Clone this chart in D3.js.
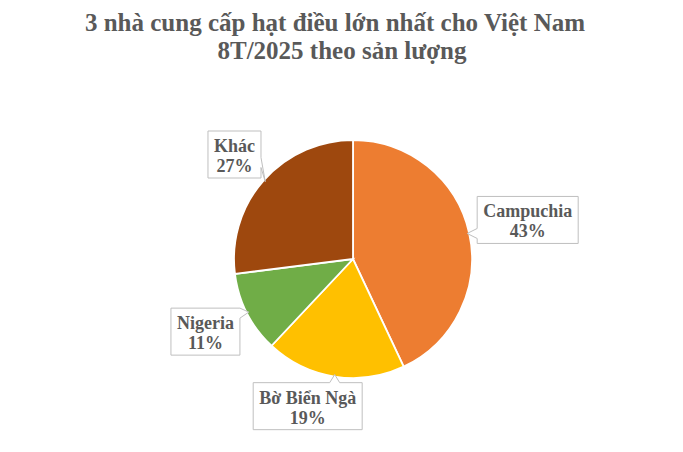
<!DOCTYPE html>
<html lang="vi">
<head>
  <meta charset="UTF-8">
  <title>Hạt điều</title>
  <script src="https://d3js.org/d3.v7.min.js"></script>
  <style>
    body {
      margin: 0;
      padding: 0;
      background: #fff;
    }
    svg {
      display: block;
      font-family: 'Liberation Serif', 'Times New Roman', serif;
    }
    .title {
      font-size: 25px;
      font-weight: bold;
      fill: #595959;
    }
    .lbl {
      font-size: 18px;
      font-weight: bold;
      fill: #595959;
    }
  </style>
</head>
<body>
  <svg id="chart" width="683" height="452"></svg>

  <script>
    // data
    var countries = ['Campuchia', 'Bờ Biển Ngà', 'Nigeria', 'Khác'];
    var shares = [43, 19, 11, 27];
    var colors = ['#ED7D31', '#FFC000', '#70AD47', '#9E480E'];
    var titleLines = ['3 nhà cung cấp hạt điều lớn nhất cho Việt Nam', '8T/2025 theo sản lượng'];

    // label placement (distance from centre, x nudge)
    var labelDist = [179, 149, 160, 158];
    var labelNudge = [0, -22, -5, 0];

    var width = 683, height = 452;
    var cx = 353, cy = 259, radius = 119;

    var svg = d3.select('#chart');

    // first title line sits a little left (trailing space in the original)
    var titleX = [335, 342];
    svg.selectAll('text.title')
      .data(titleLines).enter().append('text')
      .attr('class', 'title')
      .attr('x', function(d, i) { return titleX[i]; })
      .attr('y', function(d, i) { return 31 + i * 28; })
      .attr('text-anchor', 'middle')
      .text(function(d) { return d; });

    var data = countries.map(function(c, i) {
      return { name: c, value: shares[i], color: colors[i], dist: labelDist[i], nudge: labelNudge[i] };
    });

    var pie = d3.pie().sort(null).value(function(d) { return d.value; });
    var arc = d3.arc().innerRadius(0).outerRadius(radius);
    var arcs = pie(data);

    var g = svg.append('g').attr('transform', 'translate(' + cx + ',' + cy + ')');

    g.selectAll('path.slice')
      .data(arcs).enter().append('path')
      .attr('class', 'slice')
      .attr('d', arc)
      .attr('fill', function(d) { return d.data.color; })
      .attr('stroke', '#fff')
      .attr('stroke-width', 1.8);

    // callout labels
    var labels = g.selectAll('g.label')
      .data(arcs).enter().append('g')
      .attr('class', 'label');

    labels.each(function(d) {
      var grp = d3.select(this);
      var mid = (d.startAngle + d.endAngle) / 2;
      var lx = Math.sin(mid) * d.data.dist + d.data.nudge;
      var ly = -Math.cos(mid) * d.data.dist;
      var tip = [Math.sin(mid) * (radius - 2), -Math.cos(mid) * (radius - 2)];

      var box = grp.append('path')
        .attr('fill', '#fff')
        .attr('stroke', '#BFBFBF')
        .attr('stroke-width', 1);

      var txt = grp.append('text')
        .attr('class', 'lbl')
        .attr('text-anchor', 'middle');
      txt.append('tspan').attr('x', lx).attr('y', ly - 2.5).text(d.data.name);
      txt.append('tspan').attr('x', lx).attr('y', ly + 17.5).text(d.data.value + '%');

      var tw = txt.node().getBBox().width;
      var x0 = lx - tw / 2 - 6, x1 = lx + tw / 2 + 6;
      var y0 = ly - 23.5, y1 = ly + 23.5;
      var w = 5;
      var clamp = function(v, a, b) { return Math.max(a, Math.min(b, v)); };
      var pts = [[x0, y0]];
      var side;
      if (tip[0] > x1 && !(tip[1] > y1 + 4)) side = 'right';
      else if (tip[0] < x0 && !(tip[1] > y1 + 4)) side = 'left';
      else if (tip[1] < y0) side = 'top';
      else if (tip[1] > y1) side = tip[0] > x1 ? 'right' : 'bottom';
      else side = 'right';

      if (side === 'top') {
        var c = clamp(tip[0], x0 + w, x1 - w);
        pts.push([c - w, y0], tip, [c + w, y0]);
      }
      pts.push([x1, y0]);
      if (side === 'right') {
        var c2 = clamp(tip[1], y0 + w, y1 - w);
        if (tip[1] > y1) c2 = ly + 8;
        pts.push([x1, c2 - w], tip, [x1, c2 + w]);
      }
      pts.push([x1, y1]);
      if (side === 'bottom') {
        var c3 = clamp(tip[0], x0 + w, x1 - w);
        pts.push([c3 + w, y1], tip, [c3 - w, y1]);
      }
      pts.push([x0, y1]);
      if (side === 'left') {
        var c4 = clamp(tip[1], y0 + w, y1 - w);
        pts.push([x0, c4 + w], tip, [x0, c4 - w]);
      }
      box.attr('d', 'M' + pts.join('L') + 'Z');
    });
  </script>
</body>
</html>
